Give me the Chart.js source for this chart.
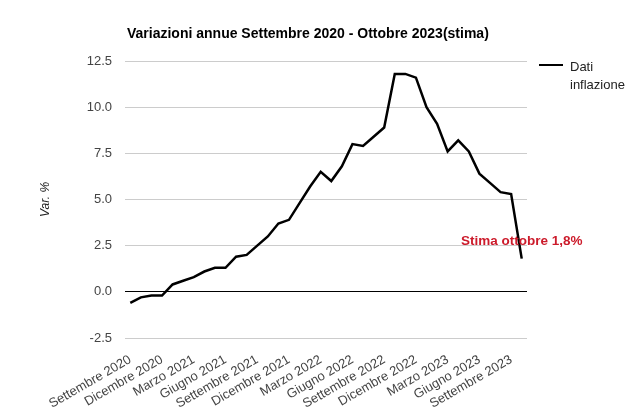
<!DOCTYPE html>
<html>
<head>
<meta charset="utf-8">
<script src="https://cdn.jsdelivr.net/npm/chart.js@4/dist/chart.umd.min.js"></script>
<style>
  html, body { margin: 0; padding: 0; background: #fff; }
  #wrap { width: 632px; height: 415px; position: relative; }
</style>
</head>
<body>
<div id="wrap"><canvas id="line-chart"></canvas></div>
<script>
// mesi, settembre 2020 - ottobre 2023
var mesi = [
  'Settembre 2020', 'Ottobre 2020', 'Novembre 2020', 'Dicembre 2020',
  'Gennaio 2021', 'Febbraio 2021', 'Marzo 2021', 'Aprile 2021', 'Maggio 2021', 'Giugno 2021',
  'Luglio 2021', 'Agosto 2021', 'Settembre 2021', 'Ottobre 2021', 'Novembre 2021', 'Dicembre 2021',
  'Gennaio 2022', 'Febbraio 2022', 'Marzo 2022', 'Aprile 2022', 'Maggio 2022', 'Giugno 2022',
  'Luglio 2022', 'Agosto 2022', 'Settembre 2022', 'Ottobre 2022', 'Novembre 2022', 'Dicembre 2022',
  'Gennaio 2023', 'Febbraio 2023', 'Marzo 2023', 'Aprile 2023', 'Maggio 2023', 'Giugno 2023',
  'Luglio 2023', 'Agosto 2023', 'Settembre 2023', 'Ottobre 2023'
];
var inflazione = [
  -0.6, -0.3, -0.2, -0.2,
  0.4, 0.6, 0.8, 1.1, 1.3, 1.3,
  1.9, 2.0, 2.5, 3.0, 3.7, 3.9,
  4.8, 5.7, 6.5, 6.0, 6.8, 8.0,
  7.9, 8.4, 8.9, 11.8, 11.8, 11.6,
  10.0, 9.1, 7.6, 8.2, 7.6, 6.4,
  5.9, 5.4, 5.3, 1.8
];
var yTicks = [-2.5, 0.0, 2.5, 5.0, 7.5, 10.0, 12.5];
var titolo = 'Variazioni annue Settembre 2020 - Ottobre 2023(stima)';
var nomeSerie = ['Dati', 'inflazione'];
var nota = 'Stima ottobre 1,8%';
var notaY = 2.75;

var font = '"Liberation Sans", Arial, sans-serif';

// titolo, legenda e nota disegnati a mano
var extraText = {
  id: 'extraText',
  afterDraw: function(chart) {
    var ctx = chart.ctx;
    var area = chart.chartArea;
    var x = chart.scales.x, y = chart.scales.y;
    ctx.save();
    // titolo
    ctx.font = 'bold 14px ' + font;
    ctx.fillStyle = '#000';
    ctx.textAlign = 'left';
    ctx.textBaseline = 'middle';
    ctx.fillText(titolo, area.left + 2, 34);
    // legenda
    var lx = area.right + 12, ly = area.top + 4;
    ctx.strokeStyle = '#000';
    ctx.lineWidth = 2;
    ctx.beginPath();
    ctx.moveTo(lx, ly);
    ctx.lineTo(lx + 24, ly);
    ctx.stroke();
    ctx.font = '13px ' + font;
    ctx.fillStyle = '#222';
    ctx.fillText(nomeSerie[0], lx + 31, ly + 2);
    ctx.fillText(nomeSerie[1], lx + 31, ly + 20);
    // nota stima
    ctx.font = 'bold 13.5px ' + font;
    ctx.fillStyle = '#cc1b2b';
    ctx.textAlign = 'center';
    ctx.fillText(nota, x.getPixelForValue(mesi.length - 1), y.getPixelForValue(notaY));
    ctx.restore();
  }
};

var ctx = document.getElementById('line-chart');
var chart = new Chart(ctx, {
  type: 'line',
  data: {
    labels: mesi,
    datasets: [{
      label: nomeSerie.join(' '),
      data: inflazione,
      borderColor: '#000',
      backgroundColor: '#000',
      borderWidth: 2.5,
      pointRadius: 0,
      tension: 0,
      fill: false
    }]
  },
  options: {
    responsive: true,
    maintainAspectRatio: false,
    animation: false,
    layout: { padding: { top: 61, right: 105, bottom: 0, left: 0 } },
    plugins: {
      legend: { display: false },
      title: { display: false },
      tooltip: { enabled: false }
    },
    scales: {
      x: {
        offset: true,
        grid: { display: false },
        border: { display: false },
        ticks: {
          autoSkip: false,
          minRotation: 30,
          maxRotation: 30,
          padding: 6,
          color: '#444',
          font: { family: font, size: 13 },
          callback: function(val, i) { return i % 3 === 0 ? mesi[i] : ''; }
        },
        afterFit: function(scale) { scale.height = 77; }
      },
      y: {
        min: yTicks[0],
        max: yTicks[yTicks.length - 1],
        afterBuildTicks: function(scale) {
          scale.ticks = yTicks.map(function(v) { return { value: v }; });
        },
        grid: {
          drawTicks: false,
          lineWidth: 1,
          color: function(c) { return c.tick && c.tick.value === 0 ? '#000' : '#ccc'; }
        },
        border: { display: false },
        ticks: {
          padding: 13,
          color: '#444',
          font: { family: font, size: 13 },
          callback: function(v) { return v.toFixed(1); }
        },
        title: {
          display: true,
          text: 'Var. %',
          color: '#222',
          padding: { top: 38, bottom: 0 },
          font: { family: font, size: 12, style: 'italic' }
        },
        afterFit: function(scale) { scale.width = 125; }
      }
    }
  },
  plugins: [extraText]
});
</script>
</body>
</html>
